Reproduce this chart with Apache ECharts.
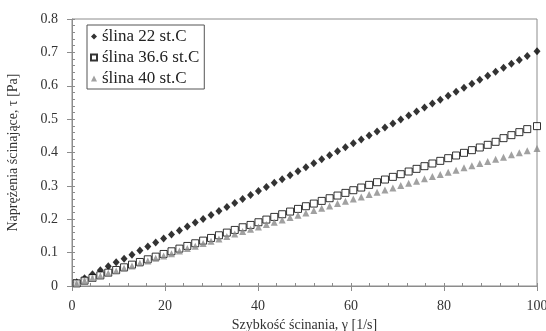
<!DOCTYPE html>
<html>
<head>
<meta charset="utf-8">
<script src="https://cdn.jsdelivr.net/npm/echarts@6/dist/echarts.min.js"></script>
<style>
  html, body { margin: 0; padding: 0; background: #fff; }
  #chart { width: 546px; height: 331px; }
</style>
</head>
<body>
<div id="chart"></div>
<script>
// shear rate, 1/s
const shearRate = [1.0, 2.7, 4.4, 6.1, 7.8, 9.5, 11.2, 12.9, 14.6, 16.3, 18.0, 19.7, 21.4, 23.1, 24.8, 26.5, 28.2, 29.9, 31.6, 33.3,
  35.0, 36.7, 38.4, 40.1, 41.8, 43.5, 45.2, 46.9, 48.6, 50.3, 52.0, 53.7, 55.4, 57.1, 58.8, 60.5, 62.2, 63.9, 65.6, 67.3,
  69.0, 70.7, 72.4, 74.1, 75.8, 77.5, 79.2, 80.9, 82.6, 84.3, 86.0, 87.7, 89.4, 91.1, 92.8, 94.5, 96.2, 97.9, 100.0];

// shear stress, Pa
const saliva22 = [0.011, 0.023, 0.035, 0.047, 0.059, 0.071, 0.082, 0.094, 0.106, 0.118, 0.130, 0.142, 0.154, 0.166, 0.178, 0.190, 0.201, 0.213, 0.225, 0.237,
  0.249, 0.261, 0.273, 0.285, 0.297, 0.309, 0.320, 0.332, 0.344, 0.356, 0.368, 0.380, 0.392, 0.404, 0.416, 0.428, 0.439, 0.451, 0.463, 0.475,
  0.487, 0.499, 0.511, 0.523, 0.535, 0.547, 0.558, 0.570, 0.582, 0.594, 0.606, 0.618, 0.630, 0.642, 0.654, 0.666, 0.677, 0.689, 0.703];

const saliva366 = [0.008, 0.016, 0.024, 0.032, 0.040, 0.048, 0.056, 0.064, 0.072, 0.080, 0.088, 0.096, 0.104, 0.112, 0.120, 0.128, 0.136, 0.144, 0.152, 0.160,
  0.168, 0.176, 0.183, 0.191, 0.199, 0.207, 0.215, 0.223, 0.231, 0.239, 0.247, 0.255, 0.263, 0.271, 0.279, 0.287, 0.295, 0.303, 0.311, 0.319,
  0.327, 0.335, 0.343, 0.351, 0.359, 0.367, 0.375, 0.383, 0.391, 0.399, 0.407, 0.415, 0.423, 0.432, 0.443, 0.452, 0.461, 0.470, 0.479];

const saliva40 = [0.007, 0.015, 0.023, 0.030, 0.038, 0.045, 0.053, 0.060, 0.068, 0.075, 0.083, 0.090, 0.097, 0.105, 0.112, 0.119, 0.127, 0.134, 0.141, 0.148,
  0.156, 0.163, 0.170, 0.177, 0.184, 0.191, 0.198, 0.205, 0.212, 0.219, 0.226, 0.233, 0.240, 0.247, 0.254, 0.261, 0.267, 0.274, 0.281, 0.288,
  0.294, 0.301, 0.308, 0.314, 0.321, 0.328, 0.334, 0.341, 0.347, 0.354, 0.360, 0.367, 0.373, 0.380, 0.386, 0.393, 0.399, 0.405, 0.412];

const seriesNames = ["ślina 22 st.C", "ślina 36.6 st.C", "ślina 40 st.C"];

const font = "'Liberation Serif', 'Times New Roman', serif";
const textColor = "#333";
const axisColor = "#8c8c8c";

function pairs(ys) {
  return shearRate.map((x, i) => [x, ys[i]]);
}

const chart = echarts.init(document.getElementById("chart"));

// extra axes only to draw the small inside ticks
const minorAxisBase = {
  axisLine: { show: false },
  axisLabel: { show: false },
  splitLine: { show: false },
  axisTick: { show: true, inside: true, length: 3, lineStyle: { color: axisColor } },
};

const option = {
  animation: false,
  backgroundColor: "#fff",
  textStyle: { fontFamily: font, color: textColor },
  grid: {
    left: 72,
    right: 9,
    top: 19,
    bottom: 45,
    outerBoundsMode: "none",
    show: true,
    borderColor: axisColor,
    borderWidth: 1,
  },
  legend: {
    orient: "vertical",
    left: 87,
    top: 25,
    padding: [3, 5, 2, 3],
    itemGap: 4,
    itemWidth: 6,
    itemHeight: 6,
    borderColor: "#555",
    borderWidth: 1,
    backgroundColor: "#fff",
    textStyle: { fontFamily: font, fontSize: 17, color: "#222" },
    data: seriesNames,
  },
  xAxis: [
    {
      type: "value",
      min: 0,
      max: 100,
      interval: 20,
      position: "bottom",
      name: "Szybkość ścinania, γ [1/s]",
      nameLocation: "middle",
      nameGap: 29,
      nameTextStyle: { fontFamily: font, fontSize: 14, color: textColor },
      axisLine: { lineStyle: { color: axisColor } },
      axisTick: { inside: false, length: 5, lineStyle: { color: axisColor } },
      axisLabel: { fontFamily: font, fontSize: 14, color: textColor, margin: 13 },
      splitLine: { show: false },
    },
    {
      type: "value",
      min: 0,
      max: 100,
      interval: 4,
      position: "bottom",
      ...minorAxisBase,
    },
  ],
  yAxis: [
    {
      type: "value",
      min: 0,
      max: 0.8,
      interval: 0.1,
      position: "left",
      name: "Naprężenia ścinające, τ [Pa]",
      nameLocation: "middle",
      nameGap: 52,
      nameTextStyle: { fontFamily: font, fontSize: 14, color: textColor },
      axisLine: { show: true, lineStyle: { color: axisColor } },
      axisTick: { show: true, inside: false, length: 5, lineStyle: { color: axisColor } },
      axisLabel: {
        fontFamily: font,
        fontSize: 14,
        color: textColor,
        margin: 14,
        formatter: v => (v === 0 ? "0" : v.toFixed(1)),
      },
      splitLine: { show: false },
    },
    {
      type: "value",
      min: 0,
      max: 0.8,
      interval: 0.02,
      position: "left",
      ...minorAxisBase,
    },
  ],
  series: [
    {
      name: seriesNames[0],
      type: "scatter",
      symbol: "diamond",
      symbolSize: [7, 8],
      itemStyle: { color: "#000" },
      data: pairs(saliva22),
    },
    {
      name: seriesNames[1],
      type: "scatter",
      symbol: "rect",
      symbolSize: 7,
      itemStyle: { color: "#fff", borderColor: "#000", borderWidth: 1 },
      data: pairs(saliva366),
    },
    {
      name: seriesNames[2],
      type: "scatter",
      symbol: "triangle",
      symbolSize: 7,
      itemStyle: { color: "#8a8a8a" },
      data: pairs(saliva40),
    },
  ],
};

chart.setOption(option);
</script>
</body>
</html>
